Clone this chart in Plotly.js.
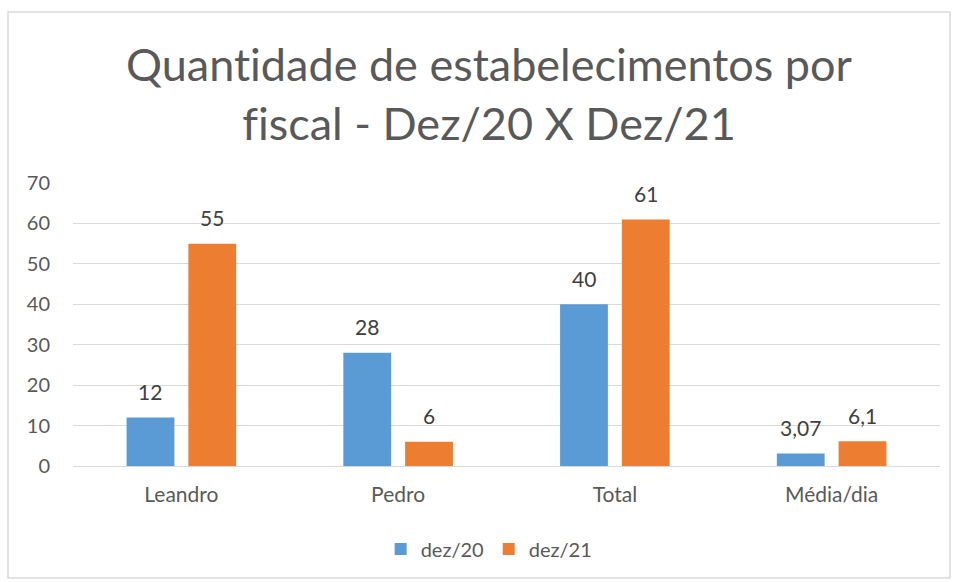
<!DOCTYPE html>
<html><head><meta charset="utf-8">
<script src="https://cdn.plot.ly/plotly-3.0.1.min.js"></script>
<style>body{margin:0;background:#fff}#c{width:956px;height:582px}text{font-variant-ligatures:none !important;font-feature-settings:"liga" 0, "clig" 0 !important}</style>
</head><body><div id="c"></div>
<script>
const categories = ["Leandro", "Pedro", "Total", "Média/dia"];
const dez20 = [12, 28, 40, 3.07];
const dez21 = [55, 6, 61, 6.1];
const labels20 = ["12", "28", "40", "3,07"];
const labels21 = ["55", "6", "61", "6,1"];
const seriesNames = ["dez/20", "dez/21"];
const yTicks = [0, 10, 20, 30, 40, 50, 60, 70];

const F = "Lato, 'Open Sans', sans-serif";
const traces = [
  {type:'bar', name:seriesNames[0], x:categories, y:dez20, marker:{color:'#5B9BD5'}, hoverinfo:'none'},
  {type:'bar', name:seriesNames[1], x:categories, y:dez21, marker:{color:'#ED7D31'}, hoverinfo:'none'}
];
const annotations = [];
categories.forEach((c,i)=>{
  annotations.push({x:c, y:dez20[i], xref:'x', yref:'y', text:labels20[i], showarrow:false, xshift:-31, yshift:26, font:{family:F,size:21,color:'#404040'}});
  annotations.push({x:c, y:dez21[i], xref:'x', yref:'y', text:labels21[i], showarrow:false, xshift:31, yshift:26, font:{family:F,size:21,color:'#404040'}});
});
const layout = {
  width:956, height:582,
  margin:{l:73, r:16, t:183, b:116},
  paper_bgcolor:'#fff', plot_bgcolor:'#fff',
  font:{family:F, color:'#595959'},
  title:{text:'Quantidade de estabelecimentos por<br>fiscal - Dez/20 X Dez/21', x:489/956, xref:'container', xanchor:'center', y:1-81/582, yref:'container', yanchor:'middle', font:{family:F, size:45, color:'#595959'}},
  barmode:'group', bargap:0.43, bargroupgap:0.226,
  xaxis:{type:'category', showgrid:false, showline:false, zeroline:false, ticks:'', tickfont:{size:21, color:'#595959'}, ticklabelstandoff:14},
  yaxis:{range:[0,70], tickvals:yTicks, showgrid:true, gridcolor:'#D9D9D9', gridwidth:1, zeroline:true, zerolinecolor:'#D9D9D9', zerolinewidth:1, showline:false, ticks:'', tickfont:{size:20, color:'#595959'}, ticklabelstandoff:22},
  legend:{orientation:'h', x:0.48, xanchor:'center', y:(466-549)/283, yanchor:'middle', font:{size:20, color:'#595959'}, itemwidth:30, traceorder:'normal'},
  showlegend:true,
  annotations:annotations,
  shapes:[{type:'rect', xref:'paper', yref:'paper', x0:(8-73)/867, x1:(950-73)/867, y0:(466-578)/283, y1:(466-12)/283, line:{color:'#D9D9D9', width:1.5}, fillcolor:'rgba(0,0,0,0)', layer:'below'}]
};
Plotly.newPlot('c', traces, layout, {displayModeBar:false, staticPlot:true});
</script></body></html>
